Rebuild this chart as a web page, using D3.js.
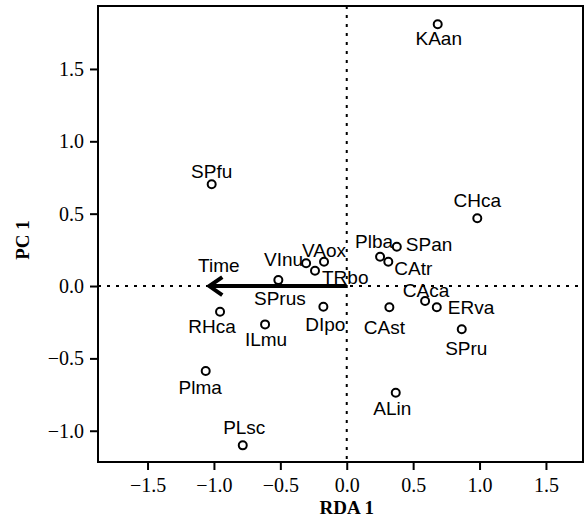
<!DOCTYPE html>
<html>
<head>
<meta charset="utf-8">
<script src="https://cdn.jsdelivr.net/npm/d3@7"></script>
<style>
  body { margin: 0; background: #fff; }
  svg text { fill: #000; }
</style>
</head>
<body>
<div data-js-graph></div>
<script>
// species scores (RDA 1 / PC 1)
const species = ['KAan', 'SPfu', 'CHca', 'Plba', 'SPan', 'CAtr', 'CAca', 'ERva', 'CAst', 'SPru',
  'ALin', 'Plma', 'PLsc', 'VInu', 'VAox', 'TRbo', 'SPrus', 'RHca', 'ILmu', 'DIpo'];
const rda1 = [0.685, -1.017, 0.983, 0.251, 0.377, 0.313, 0.590, 0.678, 0.321, 0.866,
  0.369, -1.062, -0.783, -0.306, -0.171, -0.239, -0.515, -0.954, -0.615, -0.176];
const pc1 = [1.809, 0.703, 0.468, 0.202, 0.272, 0.168, -0.104, -0.147, -0.147, -0.299,
  -0.737, -0.587, -1.101, 0.157, 0.168, 0.106, 0.041, -0.178, -0.265, -0.143];

// explanatory variable arrow
const arrowName = 'Time';
const arrowX = -1.035;
const arrowY = 0;

const xTicks = [-1.5, -1.0, -0.5, 0.0, 0.5, 1.0, 1.5];
const yTicks = [-1.0, -0.5, 0.0, 0.5, 1.0, 1.5];

// label placement: [anchor, dx, dy] relative to the point (dy = baseline)
const labelPos = {
  KAan: ['middle', 1, 21], SPfu: ['middle', 0, -6], CHca: ['middle', 0, -11.5],
  Plba: ['middle', -6, -8.5], SPan: ['start', 9, 4.5], CAtr: ['start', 6, 13.5],
  CAca: ['middle', 1, -4.5], ERva: ['start', 11, 6.5], CAst: ['middle', -5, 26.5],
  SPru: ['middle', 4.5, 26], ALin: ['middle', -3.5, 22.5], Plma: ['middle', -5.5, 23.5],
  PLsc: ['middle', 1.5, -11.5], VInu: ['end', -3, 3], VAox: ['middle', 0, -5],
  TRbo: ['start', 7, 13], SPrus: ['middle', 1.5, 25], RHca: ['middle', -8, 21],
  ILmu: ['middle', 1, 22], DIpo: ['middle', 2, 24],
};

const W = 585;
const H = 520;
const M = { top: 6, right: 2, bottom: 58, left: 98 };

const svg = d3.select('[data-js-graph]').append('svg')
  .attr('width', W)
  .attr('height', H);

const x = d3.scaleLinear().domain([-1.873, 1.779]).range([M.left, W - M.right]);
const y = d3.scaleLinear().domain([-1.216, 1.935]).range([H - M.bottom, M.top]);

const fmt = d3.format('.1f');
const serif = '"Liberation Serif", "Times New Roman", serif';
const sans = '"Liberation Sans", Arial, sans-serif';
const labelSize = '19px';

// zero lines
svg.append('line')
  .attr('x1', M.left).attr('x2', W - M.right)
  .attr('y1', y(0)).attr('y2', y(0))
  .attr('stroke', '#000').attr('stroke-width', 2)
  .attr('stroke-dasharray', '3,6');
svg.append('line')
  .attr('x1', x(0)).attr('x2', x(0))
  .attr('y1', M.top).attr('y2', H - M.bottom)
  .attr('stroke', '#000').attr('stroke-width', 2)
  .attr('stroke-dasharray', '3,6');

// axes
const xAxis = svg.append('g')
  .attr('transform', `translate(0,${H - M.bottom})`)
  .call(d3.axisBottom(x).tickValues(xTicks).tickFormat(fmt).tickSize(8).tickPadding(8));
const yAxis = svg.append('g')
  .attr('transform', `translate(${M.left},0)`)
  .call(d3.axisLeft(y).tickValues(yTicks).tickFormat(fmt).tickSize(8).tickPadding(6));

[xAxis, yAxis].forEach((ax) => {
  ax.select('.domain').remove();
  ax.selectAll('.tick line').attr('stroke-width', 2);
  ax.selectAll('.tick text')
    .style('font-family', serif)
    .style('font-size', '20px');
});

// frame
svg.append('rect')
  .attr('x', M.left).attr('y', M.top)
  .attr('width', W - M.left - M.right)
  .attr('height', H - M.top - M.bottom)
  .attr('fill', 'none')
  .attr('stroke', '#000')
  .attr('stroke-width', 2);

// axis titles
svg.append('text')
  .attr('x', x(0))
  .attr('y', 514)
  .attr('text-anchor', 'middle')
  .style('font-family', serif)
  .style('font-weight', 'bold')
  .style('font-size', '19px')
  .text('RDA 1');
svg.append('text')
  .attr('transform', 'translate(29,240) rotate(-90)')
  .attr('text-anchor', 'middle')
  .style('font-family', serif)
  .style('font-weight', 'bold')
  .style('font-size', '19px')
  .text('PC 1');

// arrow
const ax0 = x(0);
const ay0 = y(0);
const ax1 = x(arrowX);
const ay1 = y(arrowY);
svg.append('line')
  .attr('x1', ax0).attr('y1', ay0)
  .attr('x2', ax1 + 2).attr('y2', ay1)
  .attr('stroke', '#000').attr('stroke-width', 4);
svg.append('path')
  .attr('d', `M${ax1 + 13},${ay1 - 9}L${ax1},${ay1}L${ax1 + 13},${ay1 + 9}`)
  .attr('fill', 'none')
  .attr('stroke', '#000')
  .attr('stroke-width', 4)
  .attr('stroke-linejoin', 'miter');
svg.append('text')
  .attr('x', ax1 + 9.5)
  .attr('y', ay1 - 14)
  .attr('text-anchor', 'middle')
  .style('font-family', sans)
  .style('font-size', labelSize)
  .text(arrowName);

// species points
const pts = species.map((name, i) => ({ name, vx: rda1[i], vy: pc1[i] }));

svg.append('g')
  .selectAll('circle')
  .data(pts)
  .enter()
  .append('circle')
  .attr('cx', (d) => x(d.vx))
  .attr('cy', (d) => y(d.vy))
  .attr('r', 4)
  .attr('fill', 'none')
  .attr('stroke', '#000')
  .attr('stroke-width', 2);

svg.append('g')
  .selectAll('text')
  .data(pts)
  .enter()
  .append('text')
  .attr('x', (d) => x(d.vx) + labelPos[d.name][1])
  .attr('y', (d) => y(d.vy) + labelPos[d.name][2])
  .attr('text-anchor', (d) => labelPos[d.name][0])
  .style('font-family', sans)
  .style('font-size', labelSize)
  .text((d) => d.name);
</script>
</body>
</html>
